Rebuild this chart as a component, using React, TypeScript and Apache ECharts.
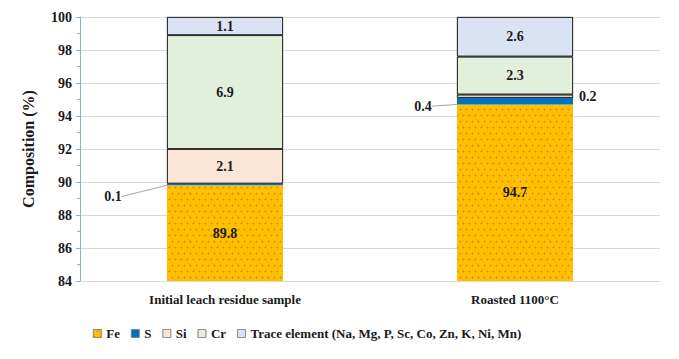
import React, { useEffect, useRef } from "react";
import * as echarts from "echarts";

const categories = ["Initial leach residue sample", "Roasted 1100°C"];
const seriesNames = ["Fe", "S", "Si", "Cr", "Trace element (Na, Mg, P, Sc, Co, Zn, K, Ni, Mn)"];
const feValues = [89.8, 94.7];
const sValues = [0.1, 0.4];
const siValues = [2.1, 0.2];
const crValues = [6.9, 2.3];
const traceValues = [1.1, 2.6];
const yTicks = { min: 84, max: 100, interval: 2 };

const FONT = "Liberation Serif";

export default function App() {
  const ref = useRef<HTMLDivElement>(null);
  useEffect(() => {
    if (!ref.current) return;
    const chart = echarts.init(ref.current, null, { renderer: "svg" });
    const all = [feValues, sValues, siValues, crValues, traceValues];
    const colors = ["#FFC000", "#0070C0", "#FBE5D6", "#E2EFDA", "#DAE3F3"];
    const cum = [0, 0];
    const series = all.map((vals, si) => {
      const data = vals.map((v, i) => {
        const drawn = Math.max(0, Math.min(v, yTicks.max - cum[i]));
        cum[i] += drawn;
        const item: any = { value: drawn, orig: v };
        if (si === 2 && i === 1) {
          item.label = { position: "right", distance: 6 };
        }
        return item;
      });
      const s: any = {
        name: seriesNames[si],
        type: "bar",
        stack: "total",
        barWidth: "40%",
        data,
        itemStyle: {
          color: colors[si],
          borderColor: si >= 2 ? "#262626" : colors[si],
          borderWidth: si >= 2 ? 0.8 : 0,
          decal: si === 0
            ? {
                symbol: "circle",
                symbolSize: 0.6,
                color: "rgba(205, 80, 40, 0.6)",
                dashArrayX: [[3, 3], [0, 3, 3, 0]],
                dashArrayY: [3, 3],
                rotation: 0,
              }
            : { symbol: "none" },
        },
        label: {
          show: true,
          position: "inside",
          fontFamily: FONT,
          fontWeight: "bold",
          fontSize: 14,
          color: "#1a1a1a",
          formatter: (p: any) => String(p.data.orig),
        },
      };
      if (si === 1) {
        s.label.position = "left";
        s.labelLine = { show: true, lineStyle: { color: "#a6a6a6", width: 1 } };
        s.labelLayout = (p: any) => {
          const r = p.rect;
          if (p.dataIndex === 0) {
            return { x: r.x - 54, y: r.y + r.height / 2 + 12, align: "center", verticalAlign: "middle" };
          }
          return { x: r.x - 34, y: r.y + r.height / 2 + 5, align: "center", verticalAlign: "middle" };
        };
      }
      return s;
    });
    chart.setOption({
      animation: false,
      textStyle: { fontFamily: FONT, fontWeight: "bold" },
      aria: { enabled: true, label: { enabled: false }, decal: { show: true } },
      grid: { left: 80, right: 19, top: 17, bottom: 78 },
      legend: {
        left: 88,
        top: 322,
        icon: "rect",
        itemWidth: 8,
        itemHeight: 8,
        itemGap: 11,
        itemStyle: { borderWidth: 0.6, borderColor: "#7f7f7f" },
        textStyle: { fontFamily: FONT, fontWeight: "bold", fontSize: 13, color: "#1a1a1a" },
        data: seriesNames,
      },
      xAxis: {
        type: "category",
        data: categories,
        axisLine: { show: true, lineStyle: { color: "#d9d9d9" } },
        axisTick: { show: false },
        axisLabel: { fontFamily: FONT, fontWeight: "bold", fontSize: 13, color: "#1a1a1a", margin: 12 },
      },
      yAxis: {
        type: "value",
        min: yTicks.min,
        max: yTicks.max,
        interval: yTicks.interval,
        name: "Composition (%)",
        nameLocation: "middle",
        nameGap: 44,
        nameTextStyle: { fontFamily: FONT, fontWeight: "bold", fontSize: 16, color: "#1a1a1a" },
        axisLine: { show: true, lineStyle: { color: "#8FAADC" } },
        axisTick: { show: true, length: 4, lineStyle: { color: "#8FAADC" } },
        minorTick: { show: true, splitNumber: 2, length: 3, lineStyle: { color: "#8FAADC" } },
        splitLine: { lineStyle: { color: "#d9d9d9" } },
        axisLabel: { fontFamily: FONT, fontWeight: "bold", fontSize: 14, color: "#1a1a1a", margin: 8 },
      },
      series,
    });
    return () => chart.dispose();
  }, []);
  return (
    <div
      ref={ref}
      style={{ position: "fixed", left: 0, top: 0, width: 679, height: 359, background: "#fff" }}
    />
  );
}
